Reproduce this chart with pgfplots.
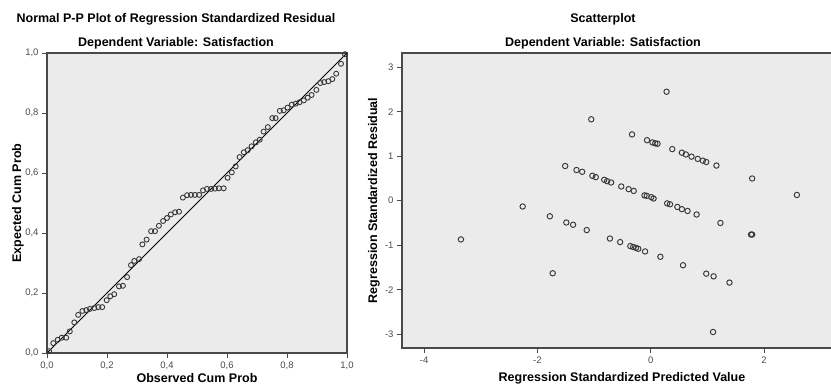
\documentclass[border=0pt]{standalone}
\usepackage{pgfplots}
\pgfplotsset{compat=1.18}
\usepackage{fontspec}
\setmainfont{Liberation Sans}
\definecolor{bgg}{HTML}{EBEBEB}
\definecolor{axg}{HTML}{4A4A4A}
\definecolor{tkg}{HTML}{4A4A4A}
\definecolor{mkg}{HTML}{383838}

\pgfplotstableread{
x y
0.007 0.006
0.021 0.033
0.036 0.044
0.049 0.051
0.064 0.051
0.076 0.072
0.091 0.102
0.104 0.127
0.118 0.140
0.131 0.143
0.143 0.147
0.158 0.150
0.171 0.153
0.184 0.153
0.199 0.176
0.211 0.189
0.224 0.196
0.240 0.222
0.253 0.224
0.267 0.253
0.280 0.293
0.291 0.307
0.307 0.313
0.318 0.362
0.332 0.378
0.347 0.406
0.360 0.406
0.373 0.424
0.387 0.440
0.400 0.450
0.413 0.462
0.427 0.469
0.440 0.471
0.453 0.518
0.467 0.526
0.480 0.527
0.493 0.527
0.507 0.527
0.520 0.542
0.533 0.547
0.547 0.547
0.560 0.548
0.573 0.549
0.589 0.549
0.602 0.584
0.616 0.602
0.629 0.622
0.642 0.653
0.656 0.669
0.669 0.676
0.682 0.689
0.696 0.702
0.709 0.711
0.722 0.738
0.736 0.753
0.751 0.783
0.762 0.783
0.776 0.807
0.789 0.809
0.802 0.818
0.816 0.828
0.829 0.831
0.842 0.836
0.856 0.842
0.869 0.851
0.882 0.860
0.898 0.877
0.911 0.900
0.924 0.903
0.938 0.906
0.951 0.913
0.964 0.931
0.980 0.964
0.993 0.996
}\pptable

\pgfplotstableread{
x y
0.28 2.45
-1.05 1.83
-0.33 1.49
-0.065 1.36
0.03 1.31
0.08 1.29
0.12 1.28
0.38 1.16
0.55 1.08
0.62 1.04
0.72 0.99
0.83 0.94
0.92 0.90
0.98 0.87
1.16 0.79
1.79 0.50
-1.51 0.78
-1.31 0.69
-1.21 0.65
-1.03 0.56
-0.97 0.53
-0.82 0.47
-0.77 0.44
-0.70 0.41
-0.52 0.32
-0.39 0.26
-0.30 0.22
-0.11 0.12
-0.07 0.11
0.01 0.08
0.05 0.05
0.29 -0.06
0.34 -0.08
0.47 -0.14
0.55 -0.19
0.65 -0.23
0.81 -0.31
1.23 -0.50
1.77 -0.76
1.79 -0.76
-2.26 -0.13
-1.78 -0.35
-1.49 -0.49
-1.37 -0.54
-1.13 -0.66
-0.72 -0.85
-0.54 -0.93
-0.36 -1.02
-0.31 -1.04
-0.26 -1.06
-0.22 -1.08
-0.10 -1.14
0.17 -1.26
0.57 -1.45
0.98 -1.64
1.11 -1.70
1.39 -1.84
-1.73 -1.63
-3.35 -0.87
2.58 0.13
1.10 -2.95
}\sctable

\begin{document}
\begin{tikzpicture}
\useasboundingbox (0pt,0pt) rectangle (831pt,388pt);
\clip (0pt,0pt) rectangle (831pt,388pt);
\pgfplotsset{common/.style={
  scale only axis,
  axis background/.style={fill=bgg},
  axis line style={axg, line width=1.2pt},
  tick align=outside,
  xtick pos=left, ytick pos=left,
  major tick length=5pt,
  tick style={axg, line width=0.9pt},
  ticklabel style={font=\fontsize{9.5}{11}\selectfont, text=tkg},
  label style={font=\bfseries\fontsize{12.5}{14}\selectfont},
  /pgf/number format/assume math mode=true,
}}

\begin{axis}[common,
  at={(47pt,35pt)}, anchor=south west,
  width=300pt, height=300pt,
  xmin=0, xmax=1, ymin=0, ymax=1,
  xtick={0,0.2,0.4,0.6,0.8,1}, ytick={0,0.2,0.4,0.6,0.8,1},
  xticklabels={0{,}0,0{,}2,0{,}4,0{,}6,0{,}8,1{,}0},
  yticklabels={0{,}0,0{,}2,0{,}4,0{,}6,0{,}8,1{,}0},
  xlabel={Observed Cum Prob},
  ylabel={Expected Cum Prob},
  xlabel style={at={(axis description cs:0.5,-0.083)}, anchor=center},
  ylabel style={at={(axis description cs:-0.097,0.5)}, anchor=center},
]
\addplot[black, line width=0.9pt, mark=none] coordinates {(0,0) (1,1)};
\addplot[only marks, mark=o, mark size=2.5pt, mark options={mkg, line width=0.9pt}] table[x=x,y=y] {\pptable};
\end{axis}

\begin{axis}[common,
  at={(402pt,40pt)}, anchor=south west,
  width=440pt, height=295pt,
  xmin=-4.39, xmax=3.376, ymin=-3.31, ymax=3.32,
  xtick={-4,-2,0,2}, ytick={-3,-2,-1,0,1,2,3},
  xticklabels={-4,-2,0,2},
  yticklabels={-3,-2,-1,0,1,2,3},
  xlabel={Regression Standardized Predicted Value},
  ylabel={Regression Standardized Residual},
  xlabel style={at={(axis description cs:0.5,-0.1017)}, anchor=center},
  ylabel style={at={(axis description cs:-0.064,0.5)}, anchor=center},
]
\addplot[only marks, mark=o, mark size=2.7pt, mark options={mkg, line width=0.95pt}] table[x=x,y=y] {\sctable};
\end{axis}

\node[font=\bfseries\fontsize{12.5}{14}\selectfont] at (176pt,369pt) {Normal P-P Plot of Regression Standardized Residual};
\node[font=\bfseries\fontsize{12.5}{14}\selectfont] at (176pt,345pt) {Dependent Variable: Satisfaction};
\node[font=\bfseries\fontsize{12.5}{14}\selectfont] at (603pt,369pt) {Scatterplot};
\node[font=\bfseries\fontsize{12.5}{14}\selectfont] at (603pt,345pt) {Dependent Variable: Satisfaction};
\end{tikzpicture}
\end{document}
